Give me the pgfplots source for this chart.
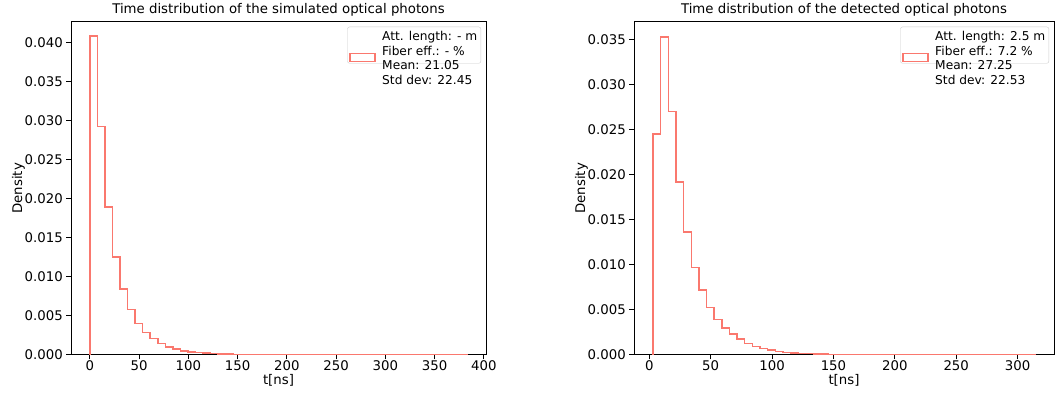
\documentclass[border=0pt]{standalone}
\usepackage{fontspec}
\setmainfont{DejaVu Sans}
\usepackage{pgfplots}
\pgfplotsset{compat=1.18}
\definecolor{salmonline}{RGB}{250,120,110}
\newcommand\fsz{\fontsize{13.3pt}{16pt}\selectfont}
\newcommand\flz{\fontsize{12.2pt}{14.5pt}\selectfont}
\renewcommand\arraystretch{1.02}
\pgfplotsset{myax/.style={
 scale only axis, height=333pt, ymin=0,
 axis line style={line width=0.8pt},
 tick align=outside, xtick pos=bottom, ytick pos=left,
 major tick length=4.7pt, tick style={line width=0.8pt, black},
 tick label style={font=\fsz},
 xticklabel style={inner ysep=0.5pt},
 scaled y ticks=false, scaled x ticks=false,
 /pgf/number format/assume math mode=true,
 yticklabel style={/pgf/number format/fixed, /pgf/number format/fixed zerofill, /pgf/number format/precision=3},
 title style={font=\fsz, yshift=-4pt},
 label style={font=\fsz},
 ylabel shift=-7pt,
 xlabel={t[ns]}, ylabel={Density},
 legend style={at={(1,1)}, anchor=north east, xshift=-5pt, yshift=-5pt, draw=black!20, rounded corners=2pt, font=\flz, inner xsep=1.5pt, inner ysep=1pt, cells={anchor=west}},
 legend image code/.code={\path[draw=none, fill=none] (0pt,-21.7pt) rectangle (31.2pt,-21.7pt); \draw[draw=salmonline, line width=1.4pt, sharp corners, fill=none] (1pt,-25.7pt) rectangle (26pt,-17.7pt);},
}}
\begin{document}
\begin{tikzpicture}
\begin{axis}[myax, at={(71pt,41pt)}, anchor=south west, width=415pt,
 xmin=-19.15, xmax=402.15, ymax=0.04265,
 xtick={0,50,100,150,200,250,300,350,400}, ytick={0,0.005,0.010,0.015,0.020,0.025,0.030,0.035,0.040},
 title={Time distribution of the simulated optical photons}]
\addplot[const plot, salmonline, line width=1.5pt] coordinates {
(0,0) (0,0.0408) (7.66,0.0292) (15.32,0.0189) (22.98,0.0125) (30.64,0.0084) (38.30,0.0058) (45.96,0.0040) (53.62,0.00286) (61.28,0.0021) (68.94,0.00145) (76.60,0.00102) (84.26,0.00073) (91.92,0.00051) (99.58,0.00038) (107.24,0.00028) (114.90,0.00021) (122.56,0.00015) (130.22,0.00011) (137.88,0.00008) (145.54,0.00006) (153.20,0.000045) (160.86,0.000035) (168.52,0.000027) (176.18,0.00002) (183.84,0.000016) (191.50,0.000013) (199.16,0.00001) (206.82,0.000008) (214.48,0.000007) (222.14,0.000006) (229.80,0.000005) (237.46,0.000005) (245.12,0.000004) (252.78,0.000004) (260.44,0.000003) (268.10,0.000003) (275.76,0.000003) (283.42,0.000002) (291.08,0.000002) (298.74,0.000002) (306.40,0.000002) (314.06,0.000001) (321.72,0.000001) (329.38,0.000001) (337.04,0.000001) (344.70,0.000001) (352.36,0.000001) (360.02,0.000001) (367.68,0.000001) (375.34,0.000001) (383.00,0)
};
\addlegendentry{\begin{tabular}[t]{@{}l@{}}Att. length: - m\\Fiber eff.: - \%\\Mean: 21.05\\Std dev: 22.45\end{tabular}}
\end{axis}
\begin{axis}[myax, at={(634pt,41pt)}, anchor=south west, width=420pt,
 xmin=-12.45, xmax=329.65, ymax=0.03697,
 xtick={0,50,100,150,200,250,300}, ytick={0,0.005,0.010,0.015,0.020,0.025,0.030,0.035},
 title={Time distribution of the detected optical photons}]
\addplot[const plot, salmonline, line width=1.5pt] coordinates {
(3.10,0) (3.10,0.0245) (9.32,0.0353) (15.54,0.0270) (21.76,0.0192) (27.98,0.0136) (34.20,0.0097) (40.42,0.0072) (46.64,0.00525) (52.86,0.0039) (59.08,0.00296) (65.30,0.0023) (71.52,0.00174) (77.74,0.00126) (83.96,0.00092) (90.18,0.00068) (96.40,0.0005) (102.62,0.00037) (108.84,0.00027) (115.06,0.0002) (121.28,0.00015) (127.50,0.00011) (133.72,0.00008) (139.94,0.00006) (146.16,0.000045) (152.38,0.000035) (158.60,0.000027) (164.82,0.00002) (171.04,0.000016) (177.26,0.000012) (183.48,0.00001) (189.70,0.000008) (195.92,0.000007) (202.14,0.000006) (208.36,0.000005) (214.58,0.000004) (220.80,0.000004) (227.02,0.000003) (233.24,0.000003) (239.46,0.000003) (245.68,0.000002) (251.90,0.000002) (258.12,0.000002) (264.34,0.000002) (270.56,0.000001) (276.78,0.000001) (283.00,0.000001) (289.22,0.000001) (295.44,0.000001) (301.66,0.000001) (307.88,0.000001) (314.10,0)
};
\addlegendentry{\begin{tabular}[t]{@{}l@{}}Att. length: 2.5 m\\Fiber eff.: 7.2 \%\\Mean: 27.25\\Std dev: 22.53\end{tabular}}
\end{axis}
\path (0,0) rectangle (1055pt,394pt);
\end{tikzpicture}
\end{document}
